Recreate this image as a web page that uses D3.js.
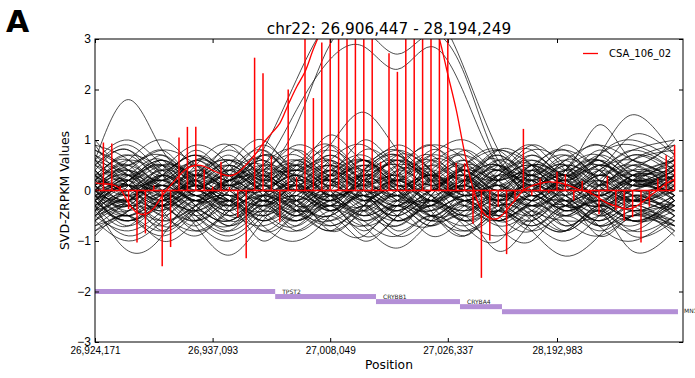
<!DOCTYPE html>
<html>
<head>
<meta charset="utf-8">
<script src="https://cdn.jsdelivr.net/npm/d3@7"></script>
<style>
  body { margin: 0; background: #fff; }
  svg { display: block; font-family: "DejaVu Sans", sans-serif; }
</style>
</head>
<body>
<svg id="chart" width="695" height="378"></svg>
<script>
// probe index 1..69 along the region, value of CSA_106_02 at each probe
const stemValues = [
  0.95, 0.93, 0.09, -0.37, -1.03, -0.85, 0.10, -1.50, -1.12, 1.05,
  1.26, 1.26, 0.42, 0.08, 0.57, 0.07, -0.53, -1.34, 2.63, 2.32,
  0.68, -0.62, 2.00, 0.27, 3.50, 1.83, 2.93, 3.50, 3.50, 3.50,
  3.50, 3.50, 3.50, 0.57, 2.72, 2.35, 3.50, 3.50, 3.50, 3.50,
  3.50, 3.50, 0.55, 0.54, -0.66, -1.73, -0.99, -0.32, -1.26, -0.22,
  1.22, -0.10, 0.24, -0.05, 0.37, 0.32, -0.20, 0.19, -0.08, -0.47,
  0.29, -0.39, -0.60, -0.53, -1.03, -0.32, 0.24, 0.70, 0.90
];

// smoothed CSA_106_02 curve, probe index 0..69
const smoothValues = [
  0.15, 0.13, 0.12, 0.03, -0.25, -0.44, -0.47, -0.35, -0.10, 0.10,
  0.29, 0.44, 0.50, 0.48, 0.40, 0.33, 0.29, 0.35, 0.51, 0.70,
  0.93, 1.13, 1.33, 1.70, 2.05, 2.35, 2.80, 3.20, 3.60, 3.90,
  4.10, 4.20, 4.25, 4.25, 4.20, 4.10, 4.00, 3.95, 3.90, 3.80,
  3.50, 3.00, 2.30, 1.60, 0.75, 0.05, -0.38, -0.55, -0.55, -0.39,
  -0.19, 0.00, 0.09, 0.14, 0.17, 0.16, 0.12, 0.06, 0.00, -0.05,
  -0.15, -0.25, -0.31, -0.36, -0.35, -0.25, -0.12, 0.01, 0.14, 0.22
];

// other samples, values at the knot probes
const knots = [0, 4, 8, 12, 16, 20, 24, 28, 32, 36, 40, 44, 48, 52, 56, 60, 64, 69];
const otherSamples = [
  [0.3, -0.2, 0.5, 0.1, -0.4, 0.2, 0.6, 0.0, -0.3, 0.4, 0.1, -0.5, 0.2, 0.5, -0.1, 0.3, -0.2, 0.1],
  [-0.4, 0.2, -0.3, 0.6, 0.1, -0.5, 0.0, 0.4, 0.7, 0.1, -0.2, 0.3, -0.4, 0.0, 0.5, -0.3, 0.2, 0.6],
  [0.8, 0.4, -0.1, -0.6, 0.2, 0.5, -0.2, -0.5, 0.1, 0.6, 0.3, 0.0, 0.6, 0.2, -0.4, 0.1, 0.7, 0.3],
  [-0.1, -0.7, -0.2, 0.3, 0.8, 0.2, -0.3, 0.3, 0.0, -0.6, -0.1, 0.4, 0.1, -0.3, 0.2, 0.5, -0.1, -0.4],
  [0.5, 0.9, 0.3, -0.2, 0.0, 0.7, 0.3, -0.1, 0.5, 0.2, 0.8, 0.3, -0.2, 0.4, 0.8, 0.2, 0.4, 0.9],
  [-0.6, -0.2, -0.8, -0.3, 0.1, -0.4, -0.7, -0.2, -0.5, 0.0, -0.3, -0.8, -0.4, 0.1, -0.5, -0.2, -0.6, -0.3],
  [0.1, 0.6, 1.0, 0.4, -0.1, 0.3, 0.9, 0.5, 0.1, 0.7, 0.4, 0.0, 0.3, 0.8, 0.5, -0.1, 0.3, 0.2],
  [-0.3, 0.1, -0.4, -0.9, -0.3, 0.0, -0.5, 0.2, -0.2, -0.7, -0.1, 0.2, -0.6, -0.2, 0.1, -0.4, -0.8, -0.2],
  [0.9, 0.3, 0.6, 0.1, 0.5, 1.0, 0.4, 0.7, 0.2, 0.5, 0.9, 0.6, 0.1, 0.5, 0.2, 0.7, 1.0, 0.6],
  [-0.8, -0.4, 0.0, -0.6, -1.0, -0.5, -0.1, -0.6, -0.9, -0.3, -0.6, -0.2, -0.7, -1.0, -0.4, -0.7, -0.3, -0.8],
  [0.2, -0.1, 0.3, 0.7, 0.3, -0.2, 0.1, -0.3, 0.4, 0.8, 0.2, -0.1, 0.4, 0.0, 0.6, 0.2, -0.2, 0.0],
  [0.0, 0.4, -0.2, 0.2, -0.5, -0.1, 0.3, -0.4, 0.0, -0.2, 0.5, -0.1, -0.4, 0.3, -0.3, 0.0, 0.4, -0.2],
  [-0.5, 0.1, 0.5, -0.1, 0.4, -0.1, -0.6, 0.1, 0.5, 0.2, -0.5, 0.1, 0.6, -0.2, 0.2, -0.5, 0.1, 0.5],
  [0.6, 0.2, 0.7, 0.3, 0.9, 0.4, 0.1, 0.6, 0.9, 0.3, 0.0, 0.5, 0.8, 0.3, 0.6, 0.1, 0.5, 0.2],
  [-0.2, -0.6, -0.3, -0.7, -0.2, -0.8, -0.4, -0.1, -0.6, -0.3, -0.7, -0.2, -0.5, -0.8, -0.3, -0.6, -0.1, -0.5],
  [0.4, 0.8, 0.2, 0.5, 0.0, 0.4, -0.2, 0.5, 0.1, -0.4, 0.3, 0.7, 0.2, -0.3, 0.4, 0.9, 0.3, 0.7],
  [-0.1, -0.5, -0.9, -0.4, 0.0, -0.6, -0.2, -0.8, -0.3, 0.2, -0.4, -0.9, -0.3, -0.6, -1.0, -0.5, -0.1, -0.4],
  [0.7, 0.1, -0.3, 0.2, 0.6, 0.1, 0.5, 0.9, 0.3, 0.6, -0.1, 0.2, 0.7, 0.1, -0.2, 0.3, 0.8, 0.4],
  [-0.7, -0.2, 0.2, -0.3, -0.6, -0.1, 0.3, -0.2, -0.7, -0.3, 0.2, -0.2, 0.0, -0.5, 0.1, -0.3, -0.7, -0.1],
  [0.1, 0.5, -0.1, 0.4, 0.2, 0.7, 0.2, -0.2, 0.2, 0.5, 0.0, 0.4, -0.1, 0.3, 0.7, 0.1, -0.2, 0.3],
  [-0.4, -0.9, -0.5, -0.1, -0.5, -0.2, -0.6, -0.3, -0.8, -0.4, -0.9, -0.5, -0.2, -0.6, -0.2, -0.9, -0.5, -0.7],
  [0.3, 0.0, 0.4, 0.9, 0.5, 0.1, 0.6, 0.2, 0.6, 0.1, 0.5, 0.8, 0.4, 0.9, 0.4, 0.1, 0.6, 0.9],
  [-0.2, 0.3, 0.0, -0.4, -0.8, -0.3, 0.1, -0.4, 0.2, -0.1, -0.4, 0.0, -0.6, -0.1, -0.5, 0.0, -0.3, -0.6],
  [1.0, 0.5, 0.8, 0.3, 0.7, 0.2, 0.8, 0.4, 1.0, 0.5, 0.7, 1.0, 0.5, 0.2, 0.6, 0.9, 0.6, 0.3],
  [-0.9, -0.5, -1.0, -0.6, -0.2, -0.7, -1.0, -0.5, -0.1, -0.6, -0.3, -0.7, -1.0, -0.4, -0.8, -0.4, -0.9, -0.6],
  [0.0, -0.3, 0.2, -0.2, 0.3, 0.6, 0.0, 0.3, -0.2, 0.1, -0.3, 0.2, -0.2, 0.4, 0.0, -0.3, 0.1, -0.1],
  [0.5, 0.1, -0.4, 0.1, -0.2, 0.3, -0.3, 0.1, 0.4, -0.1, 0.3, -0.3, 0.3, -0.1, 0.4, 0.7, 0.2, 0.0],
  [-0.3, 0.2, 0.6, 0.2, -0.2, -0.6, -0.2, 0.3, -0.1, -0.5, 0.0, 0.4, 0.0, 0.5, 0.1, -0.3, 0.3, 0.1],
  [0.2, 0.7, 0.3, 0.8, 0.4, 0.9, 0.5, 1.1, 0.6, 0.9, 0.4, 0.1, 0.6, 0.3, 0.9, 0.5, 1.1, 0.7],
  [-0.6, -1.0, -0.6, -0.2, -0.7, -0.3, -0.8, -0.5, -1.0, -0.5, -0.2, -0.6, -0.9, -0.5, -0.1, -0.7, -0.4, -0.9],
  [0.4, -0.1, 0.1, -0.3, 0.1, -0.4, 0.0, 0.5, 0.1, 0.3, -0.2, 0.1, -0.3, 0.2, -0.4, 0.1, -0.2, 0.2],
  [-0.1, 0.4, 0.8, 0.5, 0.1, 0.5, 0.2, -0.2, 0.3, 0.7, 0.2, 0.6, 0.2, 0.7, 0.3, 0.6, 0.1, 0.5],
  [0.1, -0.4, -0.1, -0.5, -0.9, -0.4, 0.0, -0.4, -0.1, -0.6, -0.2, -0.5, -0.1, -0.4, -0.8, -0.3, 0.0, -0.3],
  [0.6, 1.0, 0.5, 0.1, 0.4, 0.8, 0.3, 0.7, 0.2, 0.4, 0.9, 0.4, 0.8, 0.3, 0.0, 0.4, 0.8, 1.0],
  [-0.5, -0.1, -0.4, 0.0, -0.3, 0.2, -0.3, -0.7, -0.3, 0.0, -0.4, -0.1, -0.5, -0.2, 0.2, -0.2, -0.5, -0.2],
  [0.3, 0.6, 0.1, 0.5, 0.9, 0.3, 0.5, 0.1, 0.6, 0.2, 0.5, 0.2, 0.8, 0.5, 0.1, 0.5, 0.2, 0.5],
  [-0.3, -0.7, -0.2, -0.6, -0.3, -1.0, -0.5, -0.8, -0.3, -0.8, -0.5, -0.9, -0.4, -0.7, -0.3, -0.7, -1.0, -0.5],
  [0.0, 0.3, 0.6, 0.0, 0.5, 0.0, 0.4, 0.8, 0.3, -0.1, 0.6, 0.3, -0.1, 0.2, 0.5, 0.1, 0.5, -0.1],
  [-0.2, 0.1, -0.5, -0.1, -0.6, -0.2, 0.2, -0.1, -0.6, -0.2, 0.1, -0.5, -0.2, 0.1, -0.2, -0.6, -0.2, 0.2],
  [0.8, 0.4, 0.0, 0.6, 0.2, 0.8, 0.2, 0.6, 0.0, 0.3, 0.7, 0.1, 0.4, 0.9, 0.4, 0.8, 0.4, 0.6],
  [0.2, 0.5, 0.0, -0.4, 0.1, 0.5, 0.1, -0.3, 0.2, -0.2, 0.4, 0.0, 0.3, -0.3, 0.1, 0.4, -0.1, 0.3],
  [-0.3, 0.0, 0.4, 0.1, -0.3, 0.1, -0.4, 0.0, 0.4, 0.0, -0.3, 0.3, -0.1, 0.3, -0.2, 0.2, 0.5, 0.0],
  [0.5, 0.1, 0.3, 0.7, 0.2, 0.0, 0.5, 0.2, -0.1, 0.3, 0.6, 0.2, 0.5, 0.1, 0.4, 0.0, 0.3, 0.6],
  [-0.1, -0.4, 0.1, -0.2, 0.3, -0.1, -0.4, 0.1, -0.2, 0.2, -0.1, -0.4, 0.0, 0.3, -0.1, -0.4, 0.0, -0.3],
  [0.7, 0.3, 0.0, 0.4, 0.1, 0.5, 0.8, 0.3, 0.6, 0.1, 0.4, 0.7, 0.2, 0.6, 0.3, 0.7, 0.3, 0.1],
  [-0.5, -0.8, -0.4, 0.0, -0.4, -0.7, -0.3, 0.0, -0.4, -0.7, -0.3, -0.6, -0.2, -0.5, -0.8, -0.3, -0.6, -0.2],
  [0.0, 0.2, -0.3, 0.3, 0.6, 0.2, -0.1, 0.4, 0.1, 0.5, 0.2, -0.2, 0.2, 0.5, 0.1, -0.2, 0.2, 0.4],
  [-0.4, 0.0, -0.3, -0.6, -0.2, 0.2, -0.2, -0.5, -0.1, -0.4, 0.0, -0.3, -0.6, -0.2, 0.0, -0.4, -0.1, -0.5],
  [0.3, 0.7, 0.4, 0.1, 0.6, 0.2, 0.5, 0.2, 0.8, 0.4, 0.0, 0.5, 0.2, 0.0, 0.5, 0.3, 0.7, 0.4],
  [-0.2, -0.5, -0.1, -0.4, -0.7, -0.2, -0.5, -0.1, -0.3, -0.6, -0.2, 0.1, -0.3, -0.7, -0.3, -0.1, -0.4, -0.1],
  [0.1, -0.2, 0.2, 0.5, 0.0, 0.3, 0.0, 0.4, -0.1, 0.2, 0.4, -0.1, 0.1, -0.2, 0.3, 0.6, 0.1, 0.3],
  [-0.6, -0.3, -0.7, -0.2, -0.5, -0.1, -0.4, -0.8, -0.4, -0.1, -0.5, -0.2, -0.5, -0.1, -0.4, -0.2, -0.6, -0.4],
  [0.4, 0.1, 0.6, 0.2, 0.5, 0.1, 0.3, 0.0, 0.4, 0.7, 0.3, 0.6, 0.1, 0.4, 0.0, 0.5, 0.2, 0.5],
  [0.0, -0.3, 0.0, 0.3, -0.1, -0.4, 0.1, -0.2, 0.1, -0.3, 0.2, -0.1, 0.3, 0.0, -0.3, 0.2, -0.2, 0.1],
  [-0.3, 0.1, -0.2, 0.2, -0.3, 0.1, 0.4, 0.0, -0.4, 0.1, -0.2, 0.2, -0.2, -0.5, -0.1, 0.2, -0.1, -0.3],
  [0.6, 0.3, 0.1, 0.5, 0.2, 0.6, 0.0, 0.3, 0.6, 0.2, 0.6, 0.3, 0.7, 0.3, 0.7, 0.2, 0.0, 0.4],
  [-0.1, 0.2, 0.5, 0.1, 0.4, 0.0, 0.3, 0.6, 0.0, 0.2, -0.2, 0.2, 0.5, 0.1, 0.3, -0.1, 0.3, 0.0],
  [-0.7, -0.4, -0.1, -0.5, -0.2, -0.6, -0.2, -0.4, -0.7, -0.3, -0.6, -0.4, -0.1, -0.4, -0.6, -0.5, -0.2, -0.5],
  [0.2, 0.0, -0.3, 0.0, 0.3, 0.0, -0.2, 0.2, -0.1, 0.4, 0.1, 0.3, -0.2, 0.1, -0.2, 0.1, 0.3, -0.1],
  [0.9, 0.6, 0.2, 0.6, 0.3, 0.7, 0.4, 0.9, 0.4, 0.7, 0.3, 0.8, 0.4, 0.7, 0.3, 0.7, 0.9, 0.5],
  [-0.2, -0.6, -0.2, 0.1, -0.2, -0.5, -0.1, 0.2, -0.3, -0.1, -0.5, -0.3, 0.1, -0.3, 0.0, -0.3, -0.6, -0.3],
  [0.1, 0.4, 0.1, 0.3, 0.0, -0.3, 0.2, 0.5, 0.2, -0.1, 0.2, 0.5, 0.2, 0.4, 0.0, 0.3, 0.1, 0.4],
  [-0.4, -0.1, 0.2, -0.2, 0.1, -0.3, 0.0, -0.3, 0.0, 0.3, -0.1, -0.4, -0.1, 0.2, -0.3, -0.1, 0.2, -0.2],
  [0.4, 0.0, 0.3, -0.1, 0.2, 0.4, 0.1, 0.4, 0.0, 0.2, -0.2, 0.1, 0.4, 0.0, 0.4, 0.1, -0.2, 0.2],
  [-0.8, -0.5, -0.8, -0.4, -0.7, -0.4, -0.6, -0.3, -0.6, -0.9, -0.5, -0.7, -0.4, -0.8, -0.5, -0.8, -0.5, -0.7],
  [0.0, 0.4, 0.2, 0.6, 0.3, 0.0, 0.3, -0.1, 0.2, 0.5, 0.1, 0.4, 0.0, 0.4, 0.1, 0.4, 0.6, 0.2],
  [-0.2, 0.1, -0.1, -0.4, 0.0, 0.3, 0.0, 0.2, -0.2, 0.0, 0.3, 0.0, -0.3, 0.0, 0.3, 0.0, -0.3, 0.0],
  [0.3, -0.1, -0.3, 0.1, -0.2, 0.1, -0.3, -0.1, 0.3, 0.0, -0.3, 0.1, -0.2, 0.2, -0.1, -0.3, 0.0, 0.3],
  [0.5, 0.8, 0.4, 0.7, 0.3, 0.6, 0.2, 0.5, 0.2, 0.6, 0.2, 0.5, 0.8, 0.5, 0.2, 0.6, 0.3, 0.6],
  [-0.5, -0.2, 0.1, -0.3, -0.6, -0.2, -0.4, -0.1, -0.5, -0.2, -0.5, -0.8, -0.4, -0.2, -0.5, -0.1, -0.4, -0.7],
  [0.1, 0.3, 0.0, 0.2, 0.5, 0.2, 0.4, 0.1, 0.3, 0.0, 0.3, 0.0, 0.2, 0.5, 0.2, 0.5, 0.2, 0.0],
  [-0.1, -0.3, -0.6, -0.3, -0.1, -0.3, -0.1, -0.4, -0.1, -0.4, 0.0, -0.2, -0.4, -0.1, -0.4, -0.2, -0.4, -0.1],
  [0.2, 0.6, 0.3, 0.0, 0.3, -0.1, 0.6, 0.3, 0.5, 0.1, 0.3, -0.1, 0.3, 0.6, 0.2, 0.0, 0.4, 0.2],
  [-0.3, -0.6, -0.3, -0.1, -0.4, -0.1, -0.4, -0.2, 0.1, -0.2, -0.4, -0.1, -0.3, -0.6, -0.2, -0.5, -0.2, -0.4],
  [0.6, 0.2, 0.5, 0.3, 0.1, 0.4, 0.7, 0.2, 0.4, 0.8, 0.4, 0.1, 0.5, 0.2, 0.5, 0.3, 0.6, 0.8],
  [0.0, -0.2, 0.3, -0.1, 0.2, -0.2, 0.1, -0.2, 0.3, -0.2, 0.0, 0.3, -0.1, 0.1, 0.3, -0.1, 0.2, -0.2],
  [-0.6, -0.3, -0.5, -0.8, -0.4, -0.1, -0.4, -0.6, -0.2, -0.5, -0.7, -0.3, -0.6, -0.3, -0.6, -0.9, -0.5, -0.3],
  [0.3, 0.5, 0.7, 0.3, 0.6, 0.3, 0.0, 0.3, 0.6, 0.3, 0.7, 0.4, 0.2, 0.5, 0.8, 0.4, 0.1, 0.4],
  [-0.1, 0.1, -0.2, 0.1, -0.3, 0.0, -0.2, 0.1, -0.2, 0.2, -0.1, 0.2, -0.2, 0.0, -0.3, 0.0, -0.2, 0.1],
  [0.2, -0.2, 0.1, -0.2, 0.2, -0.1, 0.2, -0.1, 0.0, -0.3, 0.1, -0.2, 0.1, -0.2, 0.1, -0.1, 0.2, -0.1],
  // outliers above and below the band
  [0.6, 1.8, 0.8, 0.2, -0.2, 0.2, 0.5, -0.1, 0.3, 0.0, -0.3, 0.2, 0.5, 0.0, 0.3, 0.6, 0.2, 0.4],
  [0.1, -0.3, 0.3, 0.0, 0.4, -0.2, 0.2, 0.6, 0.1, -0.3, 0.2, 0.5, 0.0, 0.5, 0.3, 0.7, 1.5, 0.7],
  [-0.2, 0.2, 0.5, 0.1, -0.2, 0.4, 0.1, -0.3, 0.3, 0.6, 0.2, 0.0, 0.5, 0.8, 0.4, 1.3, 0.6, 1.0],
  [-0.3, -1.2, -0.9, -0.2, -0.6, -0.1, -0.5, 0.0, -0.4, -0.1, -0.6, -0.2, -0.5, -0.1, -0.7, -0.3, -0.6, -0.2],
  [0.0, -0.5, -0.2, -0.7, -1.28, -0.6, -0.2, -0.7, -0.4, -0.9, -0.5, -0.2, -0.6, -0.3, -0.7, -0.4, -0.8, -0.5],
  [-0.5, -0.2, -0.6, -0.3, -0.1, -0.5, -0.8, -0.4, -0.7, -1.14, -0.6, -0.3, -0.7, -0.4, -0.2, -0.6, -0.3, -0.7],
  [-0.2, -0.6, -0.3, -0.5, -0.8, -0.3, -0.6, -0.2, -0.5, -0.3, -0.7, -0.5, -1.2, -0.6, -0.3, -0.7, -0.5, -0.8],
  [-0.4, -0.1, -0.7, -0.4, -0.2, -0.8, -0.4, -0.6, -0.3, -0.5, -0.2, -0.6, -0.4, -0.8, -1.3, -0.9, -0.4, -0.6],
  [-0.1, -0.5, -0.3, -0.8, -0.4, -0.2, -0.7, -0.3, -0.9, -0.5, -0.2, -0.6, -0.3, -0.5, -0.8, -0.4, -1.2, -0.8],
  // samples with the same gain in the middle of the region
  [0.1, -0.2, 0.3, 0.0, 0.2, 0.5, 1.6, 2.6, 2.85, 2.4, 2.85, 1.9, 0.5, 0.2, -0.1, 0.3, 0.0, 0.2],
  [-0.2, 0.2, -0.1, 0.3, 0.1, 0.8, 2.2, 3.4, 3.6, 3.1, 3.5, 2.4, 0.8, 0.1, 0.3, -0.2, 0.2, 0.0],
  [0.3, 0.0, 0.4, -0.1, 0.2, 0.4, 1.3, 2.9, 3.2, 2.7, 3.1, 2.3, 0.6, 0.3, 0.0, 0.4, 0.1, 0.3],
  [0.0, 0.3, -0.2, 0.2, -0.1, 0.3, 0.4, 0.9, 1.55, 0.8, 0.3, 0.0, 0.4, -0.1, 0.2, -0.3, 0.1, 0.2]
];

// gene track: probe ranges and levels
const geneStart = [0, 21.45, 33.45, 43.45, 48.45];
const geneEnd = [21.45, 33.45, 43.45, 48.45, 69.4];
const geneLevel = [-2.0, -2.1, -2.2, -2.3, -2.4];
const geneNames = ["", "TPST2", "CRYBB1", "CRYBA4", "MN1"];

const tickProbes = [0, 14, 28, 42, 55];
const tickLabels = ["26,924,171", "26,937,093", "27,008,049", "27,026,337", "28,192,983"];
const yTicks = [-3, -2, -1, 0, 1, 2, 3];

const title = "chr22: 26,906,447 - 28,194,249";
const sampleName = "CSA_106_02";

const svg = d3.select("#chart");
const plotLeft = 95, plotRight = 683, plotTop = 39, plotBottom = 342;

const x = d3.scaleLinear().domain([0, 70]).range([plotLeft, plotRight]);
const y = d3.scaleLinear().domain([-3, 3]).range([plotBottom, plotTop]);

svg.append("defs").append("clipPath").attr("id", "plotClip")
  .append("rect")
  .attr("x", plotLeft).attr("y", plotTop)
  .attr("width", plotRight - plotLeft).attr("height", plotBottom - plotTop);

const plot = svg.append("g").attr("clip-path", "url(#plotClip)");

const sampleLine = d3.line()
  .x((d, i) => x(knots[i]))
  .y(d => y(d))
  .curve(d3.curveNatural);

plot.append("g")
  .selectAll("path")
  .data(otherSamples)
  .enter().append("path")
  .attr("d", sampleLine)
  .attr("fill", "none")
  .attr("stroke", "#000")
  .attr("stroke-opacity", 0.7)
  .attr("stroke-width", 1);

// stems
plot.append("g")
  .selectAll("line")
  .data(stemValues)
  .enter().append("line")
  .attr("x1", (d, i) => x(i + 1))
  .attr("x2", (d, i) => x(i + 1))
  .attr("y1", y(0))
  .attr("y2", d => y(d))
  .attr("stroke", "#ff0000")
  .attr("stroke-width", 1.5);

plot.append("line")
  .attr("x1", x(0)).attr("x2", x(stemValues.length))
  .attr("y1", y(0)).attr("y2", y(0))
  .attr("stroke", "#ff0000")
  .attr("stroke-width", 1.5);

plot.append("path")
  .datum(smoothValues)
  .attr("d", d3.line().x((d, i) => x(i)).y(d => y(d)).curve(d3.curveCatmullRom))
  .attr("fill", "none")
  .attr("stroke", "#ff0000")
  .attr("stroke-width", 1.3);

// gene bars
plot.append("g")
  .selectAll("rect")
  .data(geneLevel)
  .enter().append("rect")
  .attr("x", (d, i) => x(geneStart[i]))
  .attr("width", (d, i) => x(geneEnd[i]) - x(geneStart[i]))
  .attr("y", d => y(d) - 2.5)
  .attr("height", 5)
  .attr("fill", "#b38fd6");

svg.append("g")
  .selectAll("text")
  .data(geneNames.slice(1, 4))
  .enter().append("text")
  .attr("x", (d, i) => x(geneStart[i + 1]) + 7)
  .attr("y", (d, i) => y(geneLevel[i + 1]) - 3)
  .attr("font-size", "6px")
  .attr("fill", "#222")
  .text(d => d);

svg.append("text")
  .attr("x", x(geneEnd[4]) + 6)
  .attr("y", y(geneLevel[4]) + 1)
  .attr("font-size", "6px")
  .attr("fill", "#222")
  .text(geneNames[4]);

// axes, ticks point inward
const fmtMinus = d => d < 0 ? "\u2212" + Math.abs(d) : String(d);

const xAxis = svg.append("g")
  .attr("transform", `translate(0,${plotBottom})`)
  .call(d3.axisBottom(x).tickValues(tickProbes)
    .tickFormat((d, i) => tickLabels[i]).tickSize(-4).tickPadding(5));
xAxis.selectAll("text").attr("font-size", "10px").attr("fill", "#000");

svg.append("g")
  .attr("transform", `translate(0,${plotTop})`)
  .call(d3.axisTop(x).tickValues(tickProbes).tickFormat("").tickSize(-4));

const yAxis = svg.append("g")
  .attr("transform", `translate(${plotLeft},0)`)
  .call(d3.axisLeft(y).tickValues(yTicks).tickFormat(fmtMinus).tickSize(-4).tickPadding(4));
yAxis.selectAll("text").attr("font-size", "12px").attr("fill", "#000");

svg.append("g")
  .attr("transform", `translate(${plotRight},0)`)
  .call(d3.axisRight(y).tickValues(yTicks).tickFormat("").tickSize(-4));

svg.selectAll(".domain").remove();
svg.selectAll(".tick line").attr("stroke", "#000");

svg.append("rect")
  .attr("x", plotLeft).attr("y", plotTop)
  .attr("width", plotRight - plotLeft).attr("height", plotBottom - plotTop)
  .attr("fill", "none")
  .attr("stroke", "#000")
  .attr("stroke-width", 1);

// labels
svg.append("text")
  .attr("x", (plotLeft + plotRight) / 2).attr("y", 34)
  .attr("text-anchor", "middle")
  .attr("font-size", "15.3px")
  .text(title);

svg.append("text")
  .attr("x", 6).attr("y", 32)
  .attr("font-size", "30px")
  .attr("font-weight", "bold")
  .text("A");

svg.append("text")
  .attr("x", (plotLeft + plotRight) / 2).attr("y", 369)
  .attr("text-anchor", "middle")
  .attr("font-size", "12.3px")
  .text("Position");

svg.append("text")
  .attr("transform", `translate(69,${(plotTop + plotBottom) / 2}) rotate(-90)`)
  .attr("text-anchor", "middle")
  .attr("font-size", "12.5px")
  .text("SVD-ZRPKM Values");

// legend
const legend = svg.append("g");
legend.append("line")
  .attr("x1", 583).attr("x2", 598)
  .attr("y1", 53.5).attr("y2", 53.5)
  .attr("stroke", "#ff0000")
  .attr("stroke-width", 1.3);
legend.append("text")
  .attr("x", 609).attr("y", 57)
  .attr("font-size", "10px")
  .text(sampleName);
</script>
</body>
</html>
